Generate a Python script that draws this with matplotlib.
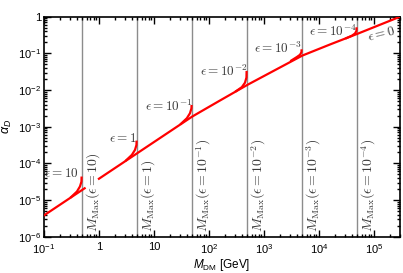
import matplotlib
matplotlib.use('Agg')
import matplotlib.pyplot as plt
import matplotlib.ticker as mticker
import numpy as np

plt.rcParams['font.family'] = ['Liberation Sans', 'DejaVu Sans']
plt.rcParams['mathtext.fontset'] = 'custom'
plt.rcParams['mathtext.rm'] = 'Liberation Sans'
plt.rcParams['mathtext.it'] = 'Liberation Sans:italic'
plt.rcParams['mathtext.bf'] = 'Liberation Sans:bold'

# main relic curve (eps = 10 branch and eps -> 0 branch)
m_low = [0.1, 0.55]
a_low = [3.8e-6, 2.09e-5]
m_main = [1, 10, 50, 160, 500, 1600, 5000, 16000, 50000, 300000]
a_main = [3.8e-5, 3.8e-4, 1.9e-3, 5.2e-3, 1.38e-2, 3.5e-2, 8.7e-2, 1.75e-1, 3.4e-1, 1.0]

# hooks at M_Max for each epsilon
eps_labels = [r'$\epsilon = 10$', r'$\epsilon = 1$', r'$\epsilon = 10^{-1}$',
              r'$\epsilon = 10^{-2}$', r'$\epsilon = 10^{-3}$', r'$\epsilon = 10^{-4}$']
vline_labels = [r'$M_{\rm Max}(\epsilon = 10)$', r'$M_{\rm Max}(\epsilon = 1)$',
                r'$M_{\rm Max}(\epsilon = 10^{-1})$', r'$M_{\rm Max}(\epsilon = 10^{-2})$',
                r'$M_{\rm Max}(\epsilon = 10^{-3})$', r'$M_{\rm Max}(\epsilon = 10^{-4})$']
m_max = [0.5, 5, 50, 500, 5000, 50000]
hook_m = [
    [0.302, 0.398, 0.452, 0.481, 0.484],
    [3.01, 3.97, 4.52, 4.81, 4.84],
    [30.1, 39.7, 45.2, 48.1, 48.4],
    [301, 397, 452, 481, 484],
    [3010, 3970, 4520, 4810, 4840],
    [30100, 39700, 45200, 48100, 48400],
]
hook_a = [
    [1.15e-5, 1.70e-5, 2.34e-5, 3.16e-5, 4.37e-5],
    [1.15e-4, 1.70e-4, 2.32e-4, 3.16e-4, 4.17e-4],
    [1.15e-3, 1.70e-3, 2.32e-3, 3.16e-3, 3.9e-3],
    [8.97e-3, 1.20e-2, 1.58e-2, 2.19e-2, 3.31e-2],
    [6.11e-2, 7.94e-2, 9.12e-2, 1.07e-1, 1.29e-1],
    [2.51e-1, 3.02e-1, 3.47e-1, 4.07e-1, 5.13e-1],
]
# label anchor (right edge) for eps labels
lab_m = [0.44, 4.9, 49, 490, 4900, 49000]
lab_a = [5.2e-5, 4.8e-4, 3.6e-3, 3.2e-2, 1.4e-1, 3.9e-1]

fig = plt.figure(figsize=(4.03, 2.73), dpi=100)
ax = fig.add_axes([0.109, 0.133, 0.884, 0.806])

for x in m_max:
    ax.axvline(x, color='#8c8c8c', lw=1.0, zorder=1)

ax.plot(m_low, a_low, color='red', lw=1.6, zorder=3)
ax.plot(m_main, a_main, color='red', lw=1.6, zorder=3)
for hm, ha_ in zip(hook_m, hook_a):
    ax.plot(hm, ha_, color='red', lw=1.6, zorder=3, solid_capstyle='butt')

for lm, la, t in zip(lab_m, lab_a, eps_labels):
    ax.text(lm, la, t, ha='right', va='center', fontsize=9.5, color='#3a3a3a',
            math_fontfamily='cm')
ax.text(1.35e5, 3.3e-1, r'$\epsilon = 0$', ha='center', va='center', fontsize=9.5,
        color='#3a3a3a', rotation=14, math_fontfamily='cm')

for x, t in zip(m_max, vline_labels):
    ax.text(x * 1.1, 1.35e-6, t, rotation=90, ha='left', va='bottom', fontsize=10,
            color='#3a3a3a', math_fontfamily='cm')

ax.set_xscale('log')
ax.set_yscale('log')
ax.set_xlim(0.1, 3e5)
ax.set_ylim(1e-6, 1)


def fmt(v, pos):
    e = int(round(np.log10(v)))
    if e == 0:
        return '1'
    if e == 1:
        return '10'
    return r'$10^{%d}$' % e


ax.xaxis.set_major_locator(mticker.LogLocator(base=10, numticks=20))
ax.yaxis.set_major_locator(mticker.LogLocator(base=10, numticks=20))
ax.xaxis.set_minor_locator(mticker.LogLocator(base=10, subs=np.arange(2, 10), numticks=20))
ax.yaxis.set_minor_locator(mticker.LogLocator(base=10, subs=np.arange(2, 10), numticks=20))
ax.xaxis.set_major_formatter(mticker.FuncFormatter(fmt))
ax.yaxis.set_major_formatter(mticker.FuncFormatter(fmt))
ax.xaxis.set_minor_formatter(mticker.NullFormatter())
ax.yaxis.set_minor_formatter(mticker.NullFormatter())
ax.tick_params(which='both', direction='in', top=True, right=True, labelsize=8, width=1)
ax.tick_params(which='major', length=5)
ax.tick_params(axis='y', which='major', pad=2)
ax.tick_params(axis='x', which='major', pad=4)
ax.tick_params(which='minor', length=2.5)
for s in ax.spines.values():
    s.set_linewidth(1.2)

ax.set_xlabel(r'$M_{\rm DM}$ [GeV]', fontsize=8.5, labelpad=1)
ax.set_ylabel(r'$\alpha_D$', fontsize=9, labelpad=3)

fig.savefig('out.png', dpi=100)
